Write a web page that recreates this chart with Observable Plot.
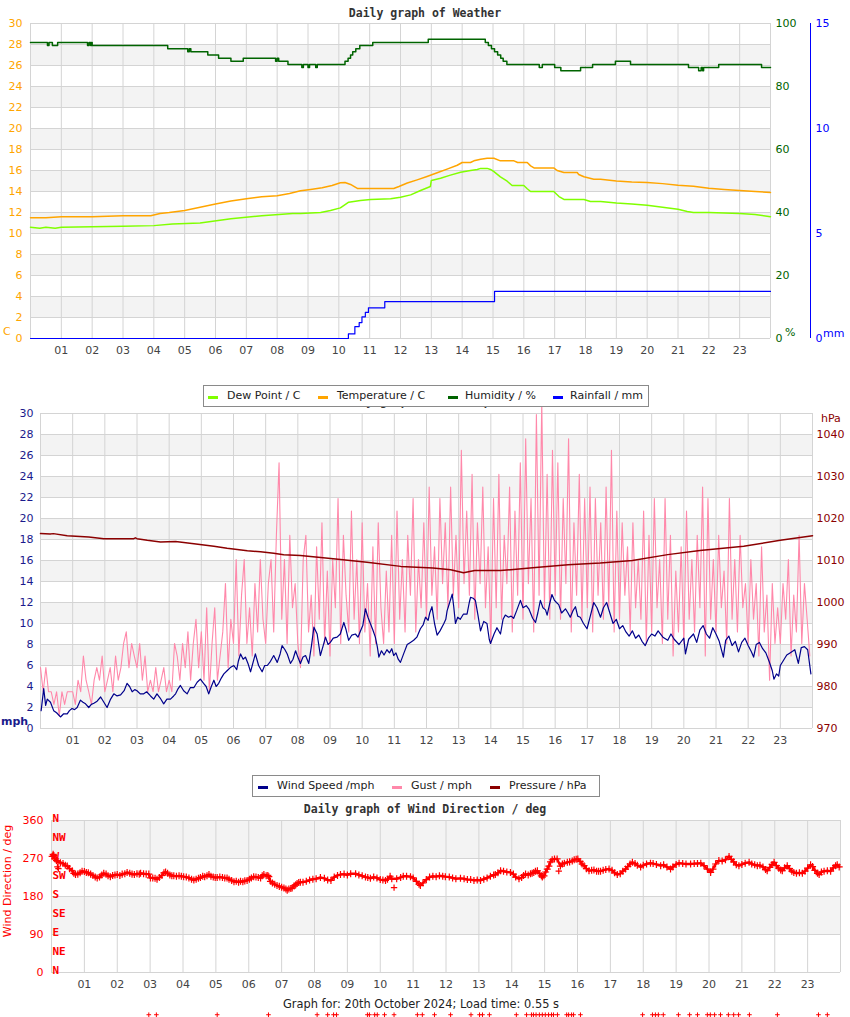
<!DOCTYPE html>
<html><head><meta charset="utf-8">
<script src="https://cdn.jsdelivr.net/npm/d3@7"></script>
<script src="https://cdn.jsdelivr.net/npm/@observablehq/plot@0.6"></script>
<style>
body{margin:0;background:#fff;font-family:"DejaVu Sans",sans-serif;}
#wrap{position:relative;width:850px;height:1017px;overflow:hidden;background:#fff;}
#wrap svg{position:absolute;left:0;overflow:visible;}
.t{position:absolute;white-space:nowrap;line-height:14px;}
.title{left:0;width:850px;text-align:center;font-family:"DejaVu Sans Mono",monospace;font-weight:bold;font-size:11.5px;color:#333;}
.legend{position:absolute;border:1px solid #8a8a8a;background:#fff;box-sizing:border-box;font-size:11px;color:#222;}
.legend span{position:absolute;top:3px;line-height:14px;white-space:nowrap;}
.legend i{position:absolute;top:10px;width:10px;height:3px;}
</style></head>
<body><div id="wrap"></div>
<script>
// ---------- labels ----------
const hourLabels = ["01","02","03","04","05","06","07","08","09","10","11","12","13","14","15","16","17","18","19","20","21","22","23"];
const tempTicks = [0,2,4,6,8,10,12,14,16,18,20,22,24,26,28,30];
const humTicks = [0,20,40,60,80,100];
const rainTicks = [0,5,10,15];
const mphTicks = [0,2,4,6,8,10,12,14,16,18,20,22,24,26,28,30];
const pressTicks = [970,980,990,1000,1010,1020,1030,1040];
const dirTicks = [0,90,180,270,360];
const compassLabels = ["N","NW","W","SW","S","SE","E","NE","N"];
const compassDeg = [360,315,270,225,180,135,90,45,0];

// ---------- panel 1 data: [hour, value] ----------
const humidity = [[0,94],[0.55,93],[0.6,94],[0.71,93],[0.88,94],[1.85,93],[1.9,94],[1.95,93],[1.98,94],[2.0,93],[4.45,92],[5.1,91],[5.15,92],[5.2,91],[5.75,90],[6.1,89],[6.5,88],[6.9,89],[7.95,88],[8.0,89],[8.05,88],[8.35,87],[8.8,86],[8.85,87],[9.0,86],[9.05,87],[9.25,86],[9.3,87],[10.2,88],[10.3,89],[10.38,90],[10.45,91],[10.55,92],[10.68,93],[11.1,94],[12.9,95],[14.75,94],[14.85,93],[14.95,92],[15.05,91],[15.15,90],[15.25,89],[15.33,88],[15.45,87],[16.5,86],[16.6,87],[17.0,86],[17.2,85],[17.84,86],[18.23,87],[18.97,88],[19.46,87],[21.34,86],[21.67,85],[21.75,86],[21.8,85],[21.83,86],[22.32,87],[23.71,86],[24,86]];
const temperature = [[0,11.5],[0.5,11.5],[1.0,11.6],[2.0,11.6],[3.0,11.7],[3.9,11.7],[4.2,11.9],[4.5,12.0],[5.0,12.2],[5.5,12.5],[6.0,12.8],[6.5,13.1],[7.0,13.3],[7.5,13.5],[8.0,13.6],[8.4,13.8],[8.76,14.07],[9.08,14.2],[9.46,14.35],[9.78,14.57],[10.05,14.83],[10.2,14.85],[10.38,14.67],[10.6,14.29],[11.78,14.29],[11.95,14.48],[12.22,14.81],[12.54,15.11],[12.86,15.43],[13.19,15.78],[13.51,16.13],[13.84,16.5],[14.0,16.76],[14.27,16.76],[14.38,16.92],[14.6,17.08],[14.81,17.17],[15.03,17.17],[15.24,16.92],[15.68,16.92],[15.8,16.76],[16.11,16.76],[16.22,16.44],[16.33,16.25],[16.97,16.25],[17.08,16.0],[17.3,15.81],[17.73,15.81],[17.78,15.62],[17.95,15.4],[18.27,15.17],[18.49,15.17],[19.0,15.0],[19.5,14.9],[20.0,14.85],[20.5,14.75],[21.0,14.6],[21.5,14.5],[22.0,14.3],[22.5,14.2],[23.0,14.1],[23.5,14.0],[24.0,13.9]];
const dewPoint = [[0,10.6],[0.3,10.5],[0.5,10.6],[0.8,10.5],[1.0,10.6],[2.0,10.65],[3.0,10.7],[4.0,10.75],[4.6,10.9],[5.5,11.0],[6.5,11.4],[7.5,11.7],[8.5,11.9],[8.76,11.9],[9.41,12.0],[9.73,12.19],[10.05,12.44],[10.32,12.98],[10.7,13.14],[11.03,13.24],[11.68,13.3],[12.0,13.46],[12.33,13.68],[12.65,14.1],[12.97,14.48],[13.0,15.05],[13.3,15.27],[13.62,15.56],[13.95,15.84],[14.27,16.0],[14.49,16.1],[14.6,16.2],[14.81,16.2],[14.92,16.1],[15.03,15.9],[15.24,15.4],[15.46,14.98],[15.62,14.57],[16.0,14.57],[16.11,14.26],[16.22,14.0],[16.97,14.0],[17.14,13.52],[17.3,13.24],[17.95,13.24],[18.16,13.05],[18.49,13.05],[19.0,12.9],[19.5,12.8],[20.0,12.7],[20.5,12.5],[21.0,12.3],[21.3,12.1],[21.5,12.0],[22.0,12.0],[22.5,11.95],[23.0,11.9],[23.5,11.8],[24.0,11.6]];
const rainfall = [[0,0],[10.31,0.22],[10.52,0.57],[10.66,0.76],[10.75,1.03],[10.86,1.24],[10.96,1.46],[11.49,1.76],[15.05,2.24],[24,2.24]];

// ---------- panel 2 data ----------
const pressure = [[0,1016.4],[0.3,1016.3],[0.4,1016.4],[0.83,1015.9],[1.5,1015.6],[1.97,1015.2],[2.9,1015.2],[2.95,1015.4],[3.0,1015.2],[3.32,1014.8],[3.73,1014.4],[4.2,1014.5],[4.77,1014.0],[5.39,1013.4],[5.8,1012.9],[6.43,1012.3],[6.84,1012.1],[7.25,1011.7],[7.56,1011.35],[8.08,1011.2],[9.1,1010.4],[10.15,1009.6],[11.2,1008.6],[12.2,1008.2],[12.75,1007.8],[13.15,1007.1],[13.5,1007.6],[14.3,1007.6],[15.3,1008.3],[16.4,1009.0],[17.4,1009.4],[18.4,1010.0],[19.5,1011.4],[20.5,1012.4],[21.86,1013.4],[23.0,1014.8],[24,1015.9]];
const windSpeed = [[0.02,1.7],[0.1,3.8],[0.16,2.2],[0.21,2.8],[0.31,2.5],[0.41,1.7],[0.5,1.5],[0.62,1.1],[0.72,1.4],[0.83,1.4],[0.9,1.7],[0.98,1.9],[1.06,1.8],[1.14,2.0],[1.24,2.7],[1.32,2.5],[1.4,2.35],[1.5,2.0],[1.58,2.3],[1.66,2.4],[1.76,2.6],[1.87,3.0],[1.97,2.5],[2.07,2.0],[2.18,2.8],[2.28,3.3],[2.38,3.1],[2.49,3.2],[2.6,3.6],[2.69,4.3],[2.77,4.0],[2.85,3.5],[2.93,3.7],[3.0,3.6],[3.1,3.3],[3.21,3.3],[3.3,3.5],[3.42,3.1],[3.52,2.8],[3.62,3.3],[3.72,2.9],[3.83,2.35],[3.93,2.8],[4.04,2.8],[4.14,3.1],[4.2,3.3],[4.28,3.8],[4.35,4.1],[4.45,3.6],[4.56,3.3],[4.66,3.9],[4.77,3.9],[4.87,4.4],[4.97,4.7],[5.07,4.3],[5.15,4.0],[5.23,3.3],[5.31,4.0],[5.39,4.6],[5.46,4.0],[5.54,4.3],[5.62,4.8],[5.7,5.2],[5.8,5.5],[5.9,5.8],[6.01,6.0],[6.1,5.6],[6.15,6.4],[6.22,7.1],[6.3,6.6],[6.37,6.8],[6.45,6.2],[6.53,5.4],[6.6,6.2],[6.68,7.1],[6.78,6.0],[6.89,5.4],[6.97,6.0],[7.05,6.0],[7.15,6.4],[7.25,6.95],[7.36,6.3],[7.45,7.1],[7.51,7.9],[7.6,7.5],[7.67,7.1],[7.77,6.2],[7.85,6.6],[7.93,7.4],[8.0,6.8],[8.08,6.2],[8.16,6.8],[8.24,6.95],[8.34,6.2],[8.42,7.8],[8.5,9.65],[8.6,9.0],[8.7,6.95],[8.78,7.8],[8.86,8.7],[8.94,8.0],[9.01,8.2],[9.1,8.6],[9.22,8.7],[9.32,9.0],[9.43,10.1],[9.5,9.4],[9.58,8.4],[9.68,8.9],[9.79,9.0],[9.87,8.7],[9.95,9.3],[10.02,9.8],[10.1,11.4],[10.18,10.6],[10.26,9.96],[10.33,9.4],[10.41,8.7],[10.47,7.8],[10.52,6.8],[10.6,7.4],[10.68,7.0],[10.77,7.5],[10.85,7.2],[10.92,7.6],[10.98,6.95],[11.05,7.2],[11.12,6.6],[11.19,6.3],[11.3,7.2],[11.4,8.0],[11.5,8.2],[11.6,8.4],[11.7,8.7],[11.81,9.5],[11.9,9.9],[11.97,10.6],[12.05,10.3],[12.1,11.0],[12.17,11.6],[12.25,10.0],[12.33,8.9],[12.42,9.3],[12.54,10.0],[12.6,10.4],[12.64,11.2],[12.72,12.0],[12.8,12.8],[12.85,11.5],[12.9,10.0],[12.97,10.6],[13.05,10.4],[13.15,10.9],[13.26,10.9],[13.33,12.0],[13.37,12.5],[13.45,12.4],[13.52,12.2],[13.6,10.8],[13.68,9.3],[13.78,10.2],[13.88,10.0],[13.95,8.5],[13.99,8.1],[14.1,9.0],[14.19,9.6],[14.3,9.0],[14.38,10.4],[14.45,10.8],[14.55,10.6],[14.63,10.7],[14.71,10.5],[14.8,11.2],[14.92,12.2],[15.0,11.5],[15.1,11.7],[15.18,11.4],[15.3,10.5],[15.39,10.1],[15.46,11.0],[15.54,12.2],[15.62,11.5],[15.7,11.3],[15.75,10.8],[15.83,11.9],[15.9,12.76],[15.98,12.2],[16.04,12.0],[16.11,11.8],[16.2,11.0],[16.32,11.4],[16.4,11.0],[16.47,10.6],[16.55,11.2],[16.63,11.6],[16.7,10.7],[16.78,10.6],[16.88,10.0],[16.99,9.5],[17.1,10.8],[17.2,12.0],[17.3,11.5],[17.41,10.6],[17.5,11.5],[17.6,12.0],[17.7,11.0],[17.8,10.0],[17.9,10.4],[18.0,9.5],[18.1,9.8],[18.2,9.2],[18.3,8.8],[18.4,9.3],[18.5,8.6],[18.6,8.9],[18.7,8.3],[18.8,7.9],[18.9,8.6],[19.0,9.0],[19.1,8.8],[19.2,9.3],[19.35,8.7],[19.5,8.4],[19.6,9.0],[19.7,8.5],[19.85,8.0],[20.0,8.6],[20.05,7.1],[20.15,8.5],[20.3,9.0],[20.4,8.2],[20.5,9.4],[20.6,9.8],[20.7,9.0],[20.8,8.6],[20.9,9.6],[21.0,9.0],[21.1,8.3],[21.23,6.8],[21.3,8.4],[21.4,8.8],[21.5,7.9],[21.6,8.3],[21.7,7.3],[21.8,8.2],[21.9,8.6],[22.0,7.9],[22.1,7.3],[22.17,6.8],[22.25,8.0],[22.35,8.2],[22.45,7.6],[22.55,7.2],[22.65,6.4],[22.75,5.5],[22.8,4.7],[22.88,5.2],[22.95,5.0],[23.0,6.0],[23.1,6.5],[23.2,7.0],[23.3,7.2],[23.45,7.5],[23.56,6.2],[23.65,7.7],[23.75,7.8],[23.85,7.5],[23.95,5.2]];
// gust readings every 5 minutes, one row per hour
const gustRows = [
[5.8,3.5,5.8,3.5,3.5,2.3,3.5,1.2,3.5,2.3,3.5,3.5],
[3.5,2.3,4.6,3.5,6.9,4.6,3.5,2.3,4.6,5.8,4.6,6.9],
[3.5,4.6,5.8,3.5,6.9,4.6,5.8,8.1,9.2,5.8,8.1,6.9],
[5.8,8.1,4.6,6.9,3.5,4.6,3.5,5.8,3.5,4.6,5.8,3.5],
[4.6,3.5,8.1,6.9,4.6,8.1,5.8,9.2,4.6,8.1,10.4,5.8],
[9.2,4.6,11.5,3.5,8.1,11.5,4.6,6.9,9.2,13.8,5.8,10.4],
[8.1,16.1,6.9,12.7,16.1,8.1,11.5,6.9,13.8,9.2,16.1,10.4],
[8.1,13.8,16.1,9.2,18.4,25.3,10.4,16.1,8.1,18.4,11.5,13.8],
[8.1,5.8,16.1,18.4,9.2,12.7,6.9,17.3,10.4,19.6,8.1,15.0],
[6.9,16.1,11.5,21.9,8.1,18.4,12.7,9.2,20.7,10.4,16.1,8.1],
[19.6,9.2,13.8,6.9,17.3,8.1,19.6,11.5,8.1,15.0,9.2,18.4],
[8.1,20.7,10.4,16.1,9.2,18.4,12.7,21.9,9.2,16.1,11.5,19.6],
[10.4,23.0,12.7,17.3,10.4,21.9,13.8,19.6,11.5,23.0,12.7,18.4],
[11.5,26.5,13.8,20.7,12.7,24.2,10.4,19.6,13.8,23.0,11.5,17.3],
[8.1,21.9,11.5,24.2,10.4,18.4,13.8,23.0,9.2,20.7,12.7,25.3],
[10.4,27.6,13.8,21.9,9.2,29.9,12.7,31.1,11.5,24.2,10.4,26.5],
[12.7,25.3,10.4,21.9,13.8,27.6,9.2,19.6,12.7,24.2,10.4,21.9],
[11.5,23.0,9.2,21.9,12.7,19.6,10.4,23.0,11.5,26.5,9.2,20.7],
[10.4,19.6,12.7,17.3,9.2,19.6,11.5,16.1,10.4,20.7,8.1,18.4],
[9.2,21.9,11.5,16.1,8.1,21.9,10.4,18.4,6.9,15.0,9.2,17.3],
[8.1,20.7,10.4,16.1,9.2,18.4,11.5,23.0,6.9,21.9,10.4,16.1],
[9.2,18.4,11.5,15.0,8.1,21.9,10.4,16.1,9.2,18.4,11.5,13.8],
[8.1,16.1,10.4,13.8,6.9,17.3,9.2,12.7,4.6,13.8,8.1,11.5],
[8.1,13.8,10.4,16.1,6.9,12.7,9.2,18.4,8.1,13.8,10.4,6.9]
];

// ---------- panel 3 data ----------
const windDir = [[0.02,275],[0.05,280],[0.07,277],[0.1,270],[0.15,265],[0.2,262],[0.27,260],[0.35,258],[0.42,254],[0.48,252],[0.55,246],[0.63,241],[0.68,235],[0.73,232],[0.8,233],[0.87,236],[0.93,240],[1.0,239],[1.06,237],[1.12,236],[1.19,233],[1.26,230],[1.33,226],[1.39,224],[1.46,226],[1.53,231],[1.59,235],[1.66,233],[1.72,229],[1.79,227],[1.86,230],[1.93,231],[2.0,232],[2.08,230],[2.15,233],[2.23,234],[2.3,237],[2.38,235],[2.45,233],[2.52,232],[2.6,234],[2.67,233],[2.71,235],[2.8,234],[2.88,233],[2.96,233],[3.01,224],[3.08,224],[3.15,223],[3.21,221],[3.28,225],[3.36,230],[3.42,236],[3.47,238],[3.53,235],[3.6,231],[3.66,229],[3.72,229],[3.8,228],[3.88,229],[3.95,228],[4.02,227],[4.1,226],[4.18,224],[4.26,221],[4.33,219],[4.4,221],[4.47,223],[4.53,225],[4.6,228],[4.66,227],[4.73,229],[4.79,232],[4.85,228],[4.92,226],[4.98,225],[5.04,225],[5.12,226],[5.2,225],[5.27,224],[5.34,224],[5.4,221],[5.48,218],[5.55,215],[5.62,216],[5.69,214],[5.75,216],[5.82,215],[5.88,217],[5.95,218],[6.02,221],[6.08,224],[6.15,227],[6.22,226],[6.29,225],[6.36,224],[6.41,229],[6.46,232],[6.53,229],[6.58,230],[6.61,227],[6.66,216],[6.72,212],[6.79,209],[6.86,206],[6.93,204],[7.0,202],[7.07,200],[7.13,198],[7.17,195],[7.22,198],[7.28,199],[7.32,200],[7.38,205],[7.43,208],[7.47,211],[7.52,213],[7.57,214],[7.65,214],[7.75,216],[7.85,219],[7.95,221],[8.05,222],[8.18,225],[8.3,223],[8.4,219],[8.5,218],[8.6,226],[8.7,230],[8.79,232],[8.9,233],[9.0,231],[9.1,234],[9.25,234],[9.35,231],[9.45,229],[9.55,226],[9.62,225],[9.7,223],[9.8,226],[9.9,224],[10.0,220],[10.08,219],[10.16,218],[10.22,221],[10.3,228],[10.35,222],[10.5,222],[10.62,225],[10.7,228],[10.8,228],[10.92,227],[11.0,224],[11.1,216],[11.18,209],[11.22,206],[11.3,212],[11.4,220],[11.5,226],[11.6,228],[11.7,227],[11.8,229],[11.9,228],[11.98,227],[12.1,226],[12.2,224],[12.3,222],[12.44,223],[12.55,222],[12.65,220],[12.75,220],[12.85,218],[12.95,219],[13.05,218],[13.15,221],[13.25,224],[13.35,228],[13.45,231],[13.5,232],[13.58,236],[13.66,241],[13.75,240],[13.85,238],[13.96,237],[14.05,233],[14.12,226],[14.22,222],[14.3,225],[14.36,230],[14.42,233],[14.5,231],[14.57,234],[14.62,235],[14.67,237],[14.72,240],[14.78,241],[14.85,234],[14.9,229],[14.93,226],[14.98,229],[15.03,238],[15.08,245],[15.13,252],[15.18,262],[15.23,267],[15.3,269],[15.38,269],[15.48,252],[15.54,257],[15.6,259],[15.69,261],[15.76,262],[15.84,264],[15.9,267],[15.96,268],[16.01,269],[16.08,263],[16.14,257],[16.2,253],[16.27,246],[16.35,241],[16.43,242],[16.5,243],[16.58,240],[16.64,240],[16.7,240],[16.78,242],[16.86,244],[16.96,245],[17.05,242],[17.13,236],[17.21,232],[17.3,234],[17.38,240],[17.46,245],[17.53,251],[17.6,257],[17.67,261],[17.75,258],[17.82,254],[17.92,250],[18.0,254],[18.1,257],[18.22,259],[18.3,258],[18.4,256],[18.53,253],[18.62,255],[18.72,250],[18.83,245],[18.9,250],[19.0,256],[19.09,259],[19.2,258],[19.3,257],[19.44,257],[19.55,258],[19.65,258],[19.75,259],[19.85,253],[19.95,245],[20.05,237],[20.12,245],[20.2,257],[20.3,265],[20.4,264],[20.5,267],[20.61,275],[20.68,268],[20.75,262],[20.83,255],[20.91,253],[21.0,256],[21.1,259],[21.22,261],[21.3,257],[21.39,255],[21.47,253],[21.55,254],[21.64,250],[21.72,244],[21.77,241],[21.85,249],[21.92,256],[21.98,261],[22.05,253],[22.12,247],[22.18,243],[22.23,241],[22.3,248],[22.38,253],[22.45,246],[22.52,240],[22.58,237],[22.66,235],[22.75,236],[22.84,235],[22.92,240],[23.0,247],[23.09,255],[23.15,251],[23.22,242],[23.3,235],[23.35,232],[23.42,238],[23.5,240],[23.6,241],[23.7,240],[23.78,248],[23.85,253],[23.9,255],[23.96,250]];
const windDirStray = [[0.18,250],[0.21,246],[10.42,201],[15.43,240]];
const calmHours = [2.96,3.19,5.04,6.6,8.08,8.4,8.58,8.67,9.61,9.67,9.83,9.91,10.13,10.42,11.13,11.28,11.65,12.14,12.76,13.02,13.11,13.32,14.14,14.45,14.6,14.66,14.74,14.84,14.93,15.02,15.12,15.21,15.27,15.39,15.67,15.73,15.82,15.88,16.09,17.98,18.28,18.37,18.46,18.61,19.07,19.41,19.65,19.95,20.04,20.17,20.35,20.59,20.75,20.9,21.23,22.08,23.33,23.6];
const calmMarkerDeg = -100;

// ---------- styling ----------
const GRID = "#d4d4d4", BAND = "#f3f3f3";
const C_DEW = "#80ff00", C_TEMP = "#ffa500", C_HUM = "#006400", C_RAIN = "#0000ff";
const C_WIND = "#00008b", C_GUST = "#ff88aa", C_PRESS = "#8b0000", C_MPH = "#1a1a8c";
const allHours = d3.range(0, 25), tickHours = d3.range(1, 24);
const style = {fontFamily: "DejaVu Sans, sans-serif", fontSize: "11px", background: "none", overflow: "visible"};
const P = ([h, v]) => ({h, v});
const xAxis = () => Plot.axisX(tickHours, {tickSize: 0, tickPadding: 8, tickFormat: d => hourLabels[d - 1], color: "#444", label: null});
const wrap = document.getElementById("wrap");
function place(svg, top) { svg.style.top = top + "px"; wrap.appendChild(svg); }
function txt(cls, text, css) { const d = document.createElement("div"); d.className = "t " + cls; d.textContent = text; Object.assign(d.style, css); wrap.appendChild(d); return d; }

// ---------- panel 1 ----------
const humK = 30 / 100, rainK = 30 / 15;
const p1 = Plot.plot({
  width: 850, height: 370, marginLeft: 30, marginRight: 80, marginTop: 23, marginBottom: 32,
  x: {domain: [0, 24], axis: null}, y: {domain: [0, 30], axis: null}, style,
  marks: [
    Plot.rect(d3.range(2, 30, 4), {x1: () => 0, x2: () => 24, y1: d => d, y2: d => d + 2, fill: BAND}),
    Plot.ruleY(tempTicks, {stroke: GRID}),
    Plot.ruleX(allHours, {stroke: GRID}),
    xAxis(),
    Plot.axisY(tempTicks, {anchor: "left", tickSize: 0, tickPadding: 8, tickFormat: d => String(d), color: C_TEMP, label: null}),
    Plot.axisY(humTicks.map(d => d * humK), {anchor: "right", tickSize: 0, tickPadding: 5, tickFormat: d => String(Math.round(d / humK)), color: C_HUM, label: null}),
    Plot.axisY(rainTicks.map(d => d * rainK), {anchor: "right", tickSize: 0, tickPadding: 5, dx: 40, tickFormat: d => String(Math.round(d / rainK)), color: C_RAIN, label: null}),
    Plot.ruleX([24], {y1: () => 0, y2: () => 30, dx: 40, stroke: C_RAIN}),
    Plot.line(humidity.map(P), {x: "h", y: d => d.v * humK, stroke: C_HUM, strokeWidth: 1.5, curve: "step-after"}),
    Plot.line(dewPoint.map(P), {x: "h", y: "v", stroke: C_DEW, strokeWidth: 1.5}),
    Plot.line(temperature.map(P), {x: "h", y: "v", stroke: C_TEMP, strokeWidth: 1.5}),
    Plot.line(rainfall.map(P), {x: "h", y: d => d.v * rainK, stroke: C_RAIN, strokeWidth: 1.2, curve: "step-after"})
  ]
});
place(p1, 0);

// ---------- panel 2 ----------
const pK = 30 / 75;
const gust = gustRows.flat().map((v, i) => ({h: i / 12, v}));
const p2 = Plot.plot({
  width: 850, height: 390, marginLeft: 40, marginRight: 38, marginTop: 43, marginBottom: 32,
  x: {domain: [0, 24], axis: null}, y: {domain: [0, 30], axis: null}, style,
  marks: [
    Plot.rect(d3.range(2, 30, 4), {x1: () => 0, x2: () => 24, y1: d => d, y2: d => d + 2, fill: BAND}),
    Plot.ruleY(mphTicks, {stroke: GRID}),
    Plot.ruleX(allHours, {stroke: GRID}),
    xAxis(),
    Plot.axisY(mphTicks, {anchor: "left", tickSize: 0, tickPadding: 7, tickFormat: d => String(d), color: C_MPH, label: null}),
    Plot.axisY(pressTicks.map(p => (p - 970) * pK), {anchor: "right", tickSize: 0, tickPadding: 4, tickFormat: d => String(Math.round(d / pK + 970)), color: C_PRESS, label: null}),
    Plot.line(gust, {x: "h", y: "v", stroke: C_GUST, strokeWidth: 1.1}),
    Plot.line(pressure.map(P), {x: "h", y: d => (d.v - 970) * pK, stroke: C_PRESS, strokeWidth: 1.5}),
    Plot.line(windSpeed.map(P), {x: "h", y: "v", stroke: C_WIND, strokeWidth: 1.2})
  ]
});
place(p2, 370);

// ---------- panel 3 ----------
const p3 = Plot.plot({
  width: 850, height: 217, marginLeft: 51, marginRight: 10, marginTop: 20, marginBottom: 45,
  x: {domain: [0, 24], axis: null}, y: {domain: [0, 360], axis: null}, style,
  marks: [
    Plot.rect([90, 270], {x1: () => 0, x2: () => 24, y1: d => d, y2: d => d + 90, fill: BAND}),
    Plot.ruleY(dirTicks, {stroke: GRID}),
    Plot.ruleX(allHours, {stroke: GRID}),
    xAxis(),
    Plot.axisY(dirTicks, {anchor: "left", tickSize: 0, tickPadding: 8, tickFormat: d => String(d), color: "#ff0000", label: null}),
    Plot.text(compassLabels, {x: () => 0, y: (d, i) => compassDeg[i], text: d => d, textAnchor: "start", dx: 1, dy: -2, fill: "#ff0000", fontWeight: "bold", fontFamily: "DejaVu Sans Mono, monospace", fontSize: 11}),
    Plot.line(windDir.map(P), {x: "h", y: "v", stroke: "#ff0000", strokeWidth: 2.4}),
    Plot.dot(windDir.map(P), {x: "h", y: "v", symbol: "plus", r: 2.4, stroke: "#ff0000", strokeWidth: 1.2}),
    Plot.dot(windDirStray.map(P), {x: "h", y: "v", symbol: "plus", r: 2.2, stroke: "#ff0000", strokeWidth: 1.2}),
    Plot.dot(calmHours, {x: d => d, y: () => calmMarkerDeg, symbol: "plus", r: 1.6, stroke: "#ff0000", strokeWidth: 1})
  ]
});
place(p3, 800);

// ---------- titles, unit labels, caption ----------
txt("title", "Daily graph of Weather", {top: "6px"});
txt("title", "Daily graph of Wind Speed", {top: "394px"});
txt("title", "Daily graph of Wind Direction / deg", {top: "802px"});
txt("", "C", {left: "3px", top: "325px", color: C_TEMP, fontSize: "11px"});
txt("", "%", {left: "785px", top: "326px", color: C_HUM, fontSize: "11px"});
txt("", "mm", {left: "823px", top: "327px", color: C_RAIN, fontSize: "11px"});
txt("", "mph", {left: "1px", top: "715px", color: C_MPH, fontSize: "11px", fontWeight: "bold"});
txt("", "hPa", {left: "821px", top: "412px", color: C_PRESS, fontSize: "11px"});
txt("", "Wind Direction / deg", {left: "8px", top: "881px", color: "#ff0000", fontSize: "11px", transform: "translate(-50%,-50%) rotate(-90deg)"});
txt("", "Graph for: 20th October 2024; Load time: 0.55 s", {left: "0", width: "850px", textAlign: "center", top: "997px", color: "#222", fontSize: "11.4px", paddingRight: "8px", boxSizing: "border-box"});

// ---------- legends ----------
function legend(left, top, width, items) {
  const box = document.createElement("div");
  box.className = "legend";
  Object.assign(box.style, {left: left + "px", top: top + "px", width: width + "px", height: "22px"});
  for (const [mx, tx, color, label] of items) {
    const m = document.createElement("i"); m.style.left = mx + "px"; m.style.background = color; box.appendChild(m);
    const s = document.createElement("span"); s.style.left = tx + "px"; s.textContent = label; box.appendChild(s);
  }
  wrap.appendChild(box);
}
legend(203, 385, 446, [[4, 23, C_DEW, "Dew Point / C"], [114, 133, C_TEMP, "Temperature / C"], [244, 261, C_HUM, "Humidity / %"], [349, 366, C_RAIN, "Rainfall / mm"]]);
legend(252, 775, 348, [[5, 24, C_WIND, "Wind Speed /mph"], [139, 158, C_GUST, "Gust / mph"], [237, 256, C_PRESS, "Pressure / hPa"]]);
</script>
</body></html>
